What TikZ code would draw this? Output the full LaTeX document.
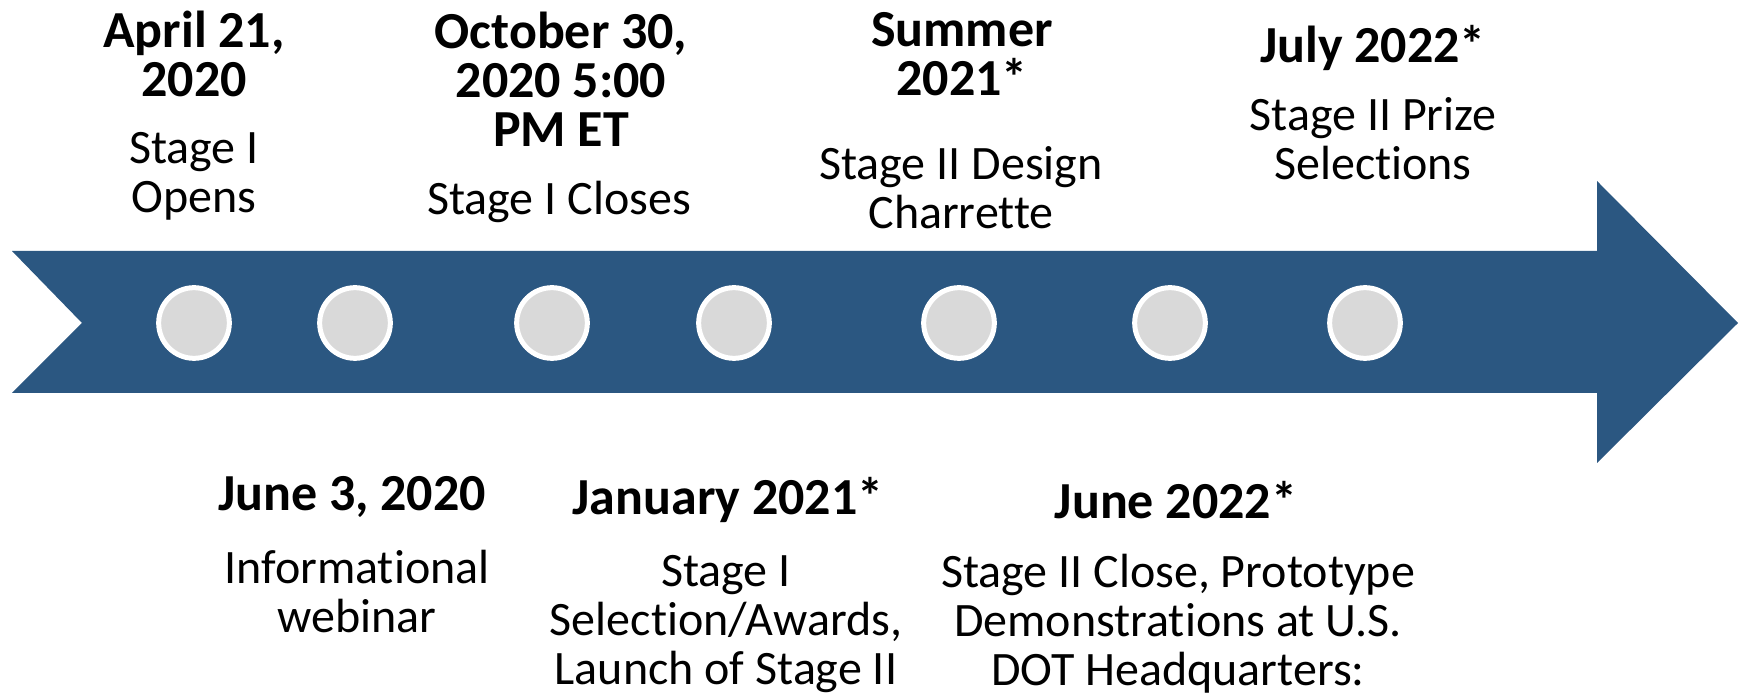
\documentclass[tikz,border=0pt]{standalone}
\usepackage{fontspec}
\setmainfont{Carlito}[Ligatures=NoCommon]
\definecolor{arrowblue}{RGB}{43,87,129}
\definecolor{dotgray}{RGB}{217,217,217}
\begin{document}
\begin{tikzpicture}[x=0.75pt, y=-0.75pt,
  dot/.style={circle, draw=white, line width=3.75pt, fill=dotgray, minimum size=53pt, inner sep=0pt},
  date/.style={align=center, inner sep=0pt, font=\fontsize{39}{36.75}\selectfont\bfseries},
  note/.style={align=center, inner sep=0pt, font=\fontsize{36}{36.75}\selectfont}]
  \useasboundingbox (0,0) rectangle (1743,698);

  % timeline arrow
  \fill[arrowblue] (12,251) -- (1597,251) -- (1597,181) -- (1738,323) -- (1597,463)
    -- (1597,393) -- (12,393) -- (82,323) -- cycle;

  % milestones on the arrow
  \node[dot] (d1) at (194,323) {};
  \node[dot] (d2) at (355,323) {};
  \node[dot] (d3) at (552,323) {};
  \node[dot] (d4) at (734,323) {};
  \node[dot] (d5) at (959,323) {};
  \node[dot] (d6) at (1170,323) {};
  \node[dot] (d7) at (1365,323) {};

  % labels above the arrow
  \node[date] (apr) at (194,54) {April 21,\\2020};
  \node[note] (aprnote) at (194,176) {Stage I\\Opens};
  \node[date] (oct) at (561,79) {October 30,\\2020 5:00\\PM ET};
  \node[note] (octnote) at (559,202) {Stage I Closes};
  \node[date] (sum) at (962,54) {Summer\\2021*};
  \node[note] (sumnote) at (961,188) {Stage II Design\\Charrette};
  \node[date] (jul) at (1373,48) {July 2022*};
  \node[note] (julnote) at (1373,139) {Stage II Prize\\Selections};

  % labels below the arrow
  \node[date] (jun) at (352,497) {June 3, 2020};
  \node[note] (junnote) at (357,592) {Informational\\webinar};
  \node[date] (jan) at (728,500) {January 2021*};
  \node[note] (jannote) at (726,624) {Stage I\\Selection/Awards,\\Launch of Stage II};
  \node[date] (jun22) at (1176,500) {June 2022*};
  \node[note] (jun22note) at (1178,624) {Stage II Close, Prototype\\Demonstrations at U.S.\\DOT Headquarters:};
\end{tikzpicture}
\end{document}
